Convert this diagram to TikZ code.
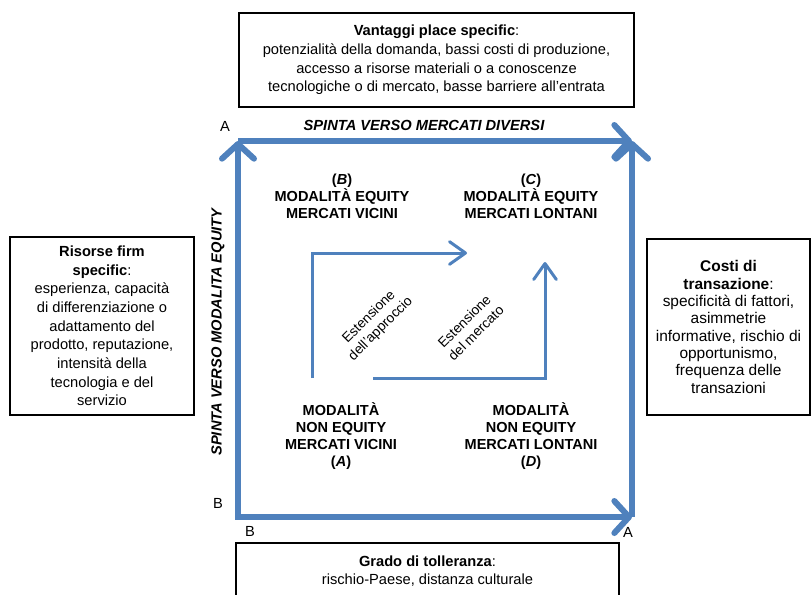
\documentclass[tikz,border=0pt]{standalone}
\usepackage{fontspec}
\setmainfont{Liberation Sans}
\usetikzlibrary{arrows.meta}
\definecolor{spinta}{RGB}{79,129,189}
\tikzset{
  every path/.style={semithick},
  chevron/.tip={Straight Barb[length=11pt, width=24pt, round]},
  smallchevron/.tip={Straight Barb[length=12pt, width=17pt, round]},
  factorbox/.style={draw, line width=1.2pt, align=center, inner sep=0pt, font=\fontsize{11}{14}\selectfont},
  bigarrow/.style={draw=spinta, line width=4.5pt, line join=miter},
  pathwayarrow/.style={draw=spinta, line width=2.25pt, -smallchevron},
  quadrant/.style={align=center, font=\fontsize{10.9}{12.8}\selectfont\bfseries},
  corner/.style={font=\fontsize{11}{12}\selectfont},
  axislabel/.style={font=\fontsize{11}{13}\selectfont\bfseries\itshape},
  pathwaylabel/.style={align=center, rotate=45, font=\fontsize{10.3}{12.4}\selectfont}
}

\begin{document}
\begin{tikzpicture}[x=0.75pt, y=-0.75pt]
    \useasboundingbox (0,0) rectangle (812,594);

    \node[factorbox, minimum width=296pt, minimum height=70.5pt] (place) at (436.5,60)
      {\textbf{Vantaggi place specific}:\\ potenzialità della domanda, bassi costi di produzione,\\ accesso a risorse materiali o a conoscenze\\ tecnologiche o di mercato, basse barriere all’entrata};
    \node[factorbox, minimum width=138pt, minimum height=133.5pt] (firm) at (102,326)
      {\textbf{Risorse firm}\\ \textbf{specific}:\\ esperienza, capacità\\ di differenziazione o\\ adattamento del\\ prodotto, reputazione,\\ intensità della\\ tecnologia e del\\ servizio};
    \node[factorbox, minimum width=122pt, minimum height=132pt, font=\fontsize{11.6}{13}\selectfont] (costi) at (728.5,327)
      {\textbf{Costi di}\\ \textbf{transazione}:\\ specificità di fattori,\\ asimmetrie\\ informative, rischio di\\ opportunismo,\\ frequenza delle\\ transazioni};
    \node[factorbox, minimum width=287pt, minimum height=42pt] (grado) at (427.5,571)
      {\textbf{Grado di tolleranza}:\\ rischio-Paese, distanza culturale};

    \coordinate (TL) at (238,141);
    \coordinate (TR) at (632,141);
    \coordinate (BL) at (238,517);
    \coordinate (BR) at (632,517);

    \draw[bigarrow, chevron-chevron] (TL) -- (BL) -- (BR);
    \draw[bigarrow, -chevron] (TL) -- (TR);
    \draw[bigarrow, -chevron] (BR) -- (TR);

    \node[corner] (aTop) at (225,126) {A};
    \node[corner] (bLeft) at (218,503) {B};
    \node[corner] (bBottom) at (250,531) {B};
    \node[corner] (aBottom) at (628,532) {A};

    \node[axislabel] (mercati) at (424,125) {SPINTA VERSO MERCATI DIVERSI};
    \node[axislabel, rotate=90] (equity) at (218,332) {SPINTA VERSO MODALITA EQUITY};

    \node[quadrant] (qB) at (342,196) {(\textit{B})\\ MODALITÀ EQUITY\\ MERCATI VICINI};
    \node[quadrant] (qC) at (531,196) {(\textit{C})\\ MODALITÀ EQUITY\\ MERCATI LONTANI};
    \node[quadrant] (qA) at (341,436) {MODALITÀ\\ NON EQUITY\\ MERCATI VICINI\\ (\textit{A})};
    \node[quadrant] (qD) at (531,436) {MODALITÀ\\ NON EQUITY\\ MERCATI LONTANI\\ (\textit{D})};

    \coordinate (approccioStart) at (312,378);
    \coordinate (approccioEnd) at (467,253);
    \coordinate (mercatoStart) at (373,378);
    \coordinate (mercatoEnd) at (545,262);

    \draw[pathwayarrow] (approccioStart) |- (approccioEnd);
    \draw[pathwayarrow] (mercatoStart) -| (mercatoEnd);

    \node[pathwaylabel] (approccio) at (375,323) {Estensione\\ dell'approccio};
    \node[pathwaylabel] (mercato) at (470,327) {Estensione\\ del mercato};
\end{tikzpicture}
\end{document}
